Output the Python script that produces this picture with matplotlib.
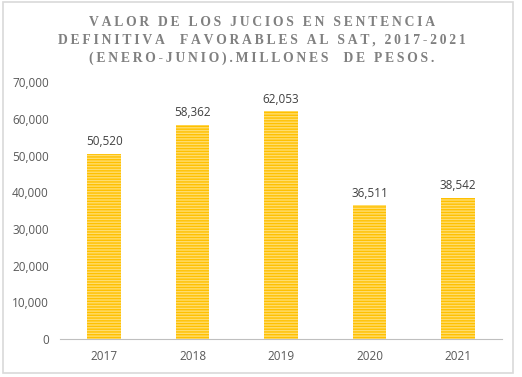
import numpy as np
import matplotlib.pyplot as plt
from matplotlib.patches import Rectangle
from matplotlib.ticker import FuncFormatter

# Data
years = ['2017', '2018', '2019', '2020', '2021']
values = [50520, 58362, 62053, 36511, 38542]
title_lines = ['VALOR DE LOS JUCIOS EN SENTENCIA',
               'DEFINITIVA  FAVORABLES AL SAT, 2017-2021',
               '(ENERO-JUNIO).MILLONES  DE PESOS.']

fig = plt.figure(figsize=(5.22, 3.77), dpi=100)
ax = fig.add_axes([0.115, 0.101, 0.847, 0.681])

x = np.arange(len(years))
bars = ax.bar(x, values, width=0.38, facecolor='#FFDD6E', edgecolor='#FFC000',
              linewidth=0, hatch='------')

for xi, v in zip(x, values):
    ax.text(xi, v + 1500, f'{v:,}', ha='center', va='bottom', fontsize=8.5,
            color='#404040', family='Open Sans')

ax.set_ylim(0, 70000)
ax.set_yticks(range(0, 70001, 10000))
ax.yaxis.set_major_formatter(FuncFormatter(lambda v, p: f'{int(v):,}'))
ax.set_xticks(x)
ax.set_xticklabels(years)
ax.set_xlim(-0.5, len(years) - 0.5)
for s in ['top', 'right', 'left']:
    ax.spines[s].set_visible(False)
ax.spines['bottom'].set_color('#BFBFBF')
ax.tick_params(axis='both', length=0, colors='#595959', labelsize=8.5, pad=8)
for lab in ax.get_xticklabels() + ax.get_yticklabels():
    lab.set_family('Open Sans')

# spaced-out title
spaced = '\n'.join('\u2009'.join(line) for line in title_lines)
fig.text(0.502, 0.958, spaced, ha='center', va='top', fontsize=9.8,
         family='Liberation Serif', weight='bold', color='#808080',
         linespacing=1.5)

fig.patches.append(Rectangle((0.006, 0.01), 0.976, 0.986, transform=fig.transFigure,
                             fill=False, edgecolor='#D9D9D9', linewidth=1.2))

fig.savefig('out.png', dpi=100)
